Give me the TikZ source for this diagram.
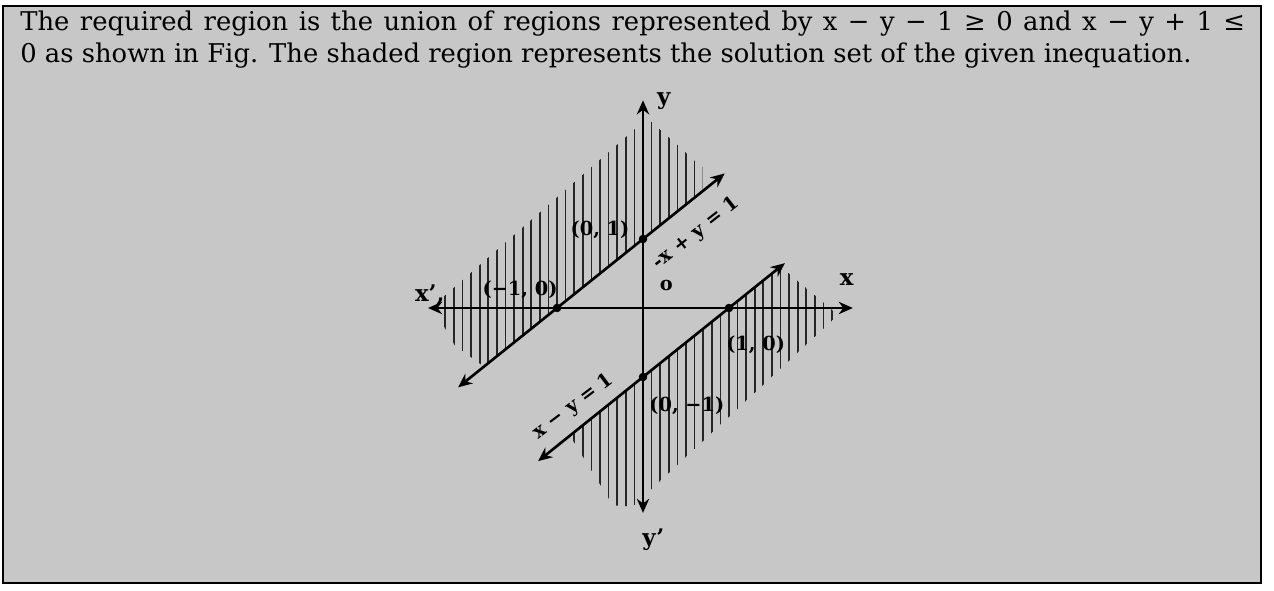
\documentclass[tikz,border=0pt]{standalone}
\usepackage{fontspec}
\setmainfont{DejaVu Serif}
\usetikzlibrary{arrows.meta}

\begin{document}
\begin{tikzpicture}[x=0.02cm,y=0.02cm,
  axis/.style={line width=1.5pt,{Stealth[length=8pt,width=7pt]}-{Stealth[length=8pt,width=7pt]}},
  hatch/.style={line width=1pt,black!85},
  lbl/.style={inner sep=1pt,font=\fontsize{11}{13}\selectfont\bfseries},
  axlbl/.style={inner sep=1pt,font=\fontsize{13}{15}\selectfont\bfseries},
  txt/.style={anchor=base west,inner sep=0pt,font=\fontsize{14.7}{17}\selectfont}]
\useasboundingbox (0,0) rectangle (1274,591);
\filldraw[fill=black!22,line width=1.6pt] (3,8) rectangle (1261,585);

\node[txt] (lineone) at (20,560)
  {\makebox[24.5cm][s]{The required region is the union of regions represented by x − y − 1 ≥ 0 and x − y + 1 ≤}};
\node[txt] (linetwo) at (20,528)
  {0 as shown in Fig. The shaded region represents the solution set of the given inequation.};

\begin{scope}[shift={(643,283)},x=1.72cm,y=1.38cm]
\begin{scope}
\clip (-2.36,0.12) -- (0.05,2.75) -- (0.69,2.04) -- (0.69,1.69) -- (-1.85,-0.85)
  -- (-2.19,-0.54) -- (-2.36,-0.17) -- cycle;
\foreach \u in {-2.40,-2.30,...,0.75}
  \draw[hatch] (\u,-1.2) -- (\u,3);
\end{scope}
\begin{scope}
\clip (-0.85,-1.85) -- (1.6,0.6) -- (2.27,-0.10) -- (-0.12,-2.88) -- (-0.35,-2.86) -- cycle;
\foreach \u in {-0.90,-0.80,...,2.3}
  \draw[hatch] (\u,-3) -- (\u,0.8);
\end{scope}

\coordinate (xl) at (-2.5,0);
\coordinate (xr) at (2.44,0);
\coordinate (yt) at (0,3.01);
\coordinate (yb) at (0,-2.97);
\draw[axis] (xl) -- (xr);
\draw[axis] (yb) -- (yt);

\coordinate (ua) at (-2.15,-1.15);
\coordinate (ub) at (0.95,1.95);
\coordinate (la) at (-1.22,-2.22);
\coordinate (lb) at (1.65,0.65);
\draw[axis] (ua) -- (ub);
\draw[axis] (la) -- (lb);

\filldraw[black] (0,1) circle (2.2pt) coordinate (p01);
\filldraw[black] (-1,0) circle (2.2pt) coordinate (pm10);
\filldraw[black] (1,0) circle (2.2pt) coordinate (p10);
\filldraw[black] (0,-1) circle (2.2pt) coordinate (p0m1);

\node[axlbl] (ylab) at (0.24,3.0) {y};
\node[axlbl] (yplab) at (0.12,-3.36) {y'};
\node[axlbl] (xlab) at (2.37,0.41) {x};
\node[axlbl] (xplab) at (-2.48,0.19) {x',};
\node[lbl] (olab) at (0.27,0.33) {o};

\node[lbl] (l01) at (-0.5,1.13) {(0, 1)};
\node[lbl] (lm10) at (-1.43,0.26) {(−1, 0)};
\node[lbl] (l10) at (1.31,-0.54) {(1, 0)};
\node[lbl] (l0m1) at (0.51,-1.41) {(0, −1)};

\node[lbl,rotate=38] (equp) at (0.62,1.08) {-x + y = 1};
\node[lbl,rotate=37] (eqlow) at (-0.81,-1.43) {x − y = 1};
\end{scope}
\end{tikzpicture}
\end{document}
